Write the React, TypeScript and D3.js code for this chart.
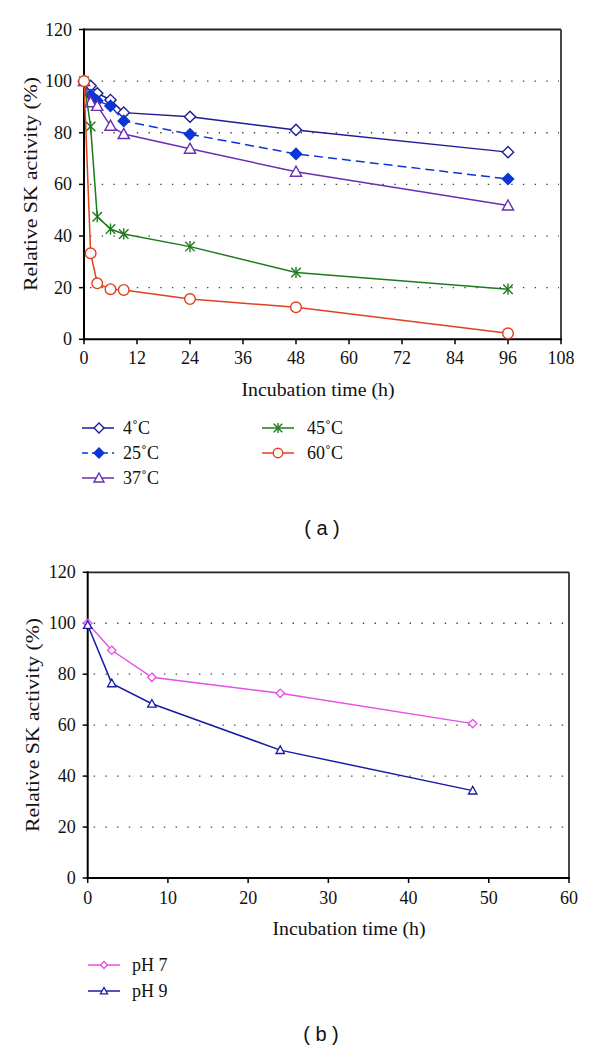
import React from "react";
import * as d3 from "d3";

// ---------- Data ----------
const tempTimes = [0, 1.5, 3, 6, 9, 24, 48, 96];
const temp4 = [100, 98.2, 95.3, 92.7, 87.8, 86.2, 81.1, 72.5];
const temp25 = [100, 94.6, 92.4, 90.4, 84.6, 79.4, 71.8, 62.1];
const temp37 = [100, 91.8, 90.4, 82.7, 79.5, 73.8, 64.9, 51.8];
const temp45 = [100, 82.4, 47.5, 42.7, 40.8, 35.9, 25.9, 19.4];
const temp60 = [100, 33.3, 21.7, 19.4, 19.1, 15.6, 12.4, 2.3];

const phTimes = [0, 3, 8, 24, 48];
const ph7 = [100, 89.4, 78.8, 72.5, 60.6];
const ph9 = [99.3, 76.4, 68.4, 50.2, 34.3];

const topXTicks = [0, 12, 24, 36, 48, 60, 72, 84, 96, 108];
const botXTicks = [0, 10, 20, 30, 40, 50, 60];
const yTicks = [0, 20, 40, 60, 80, 100, 120];
const gridTicks = [20, 40, 60, 80, 100];

type Shape = "diamondOpen" | "diamondFilled" | "triangle" | "star" | "circle";

const topSeries = [
  { name: "4˚C", values: temp4, color: "#1c1c96", shape: "diamondOpen" as Shape, dash: "" },
  { name: "25˚C", values: temp25, color: "#0b35d6", shape: "diamondFilled" as Shape, dash: "9,5" },
  { name: "37˚C", values: temp37, color: "#6a2fb0", shape: "triangle" as Shape, dash: "" },
  { name: "45˚C", values: temp45, color: "#1e7a1e", shape: "star" as Shape, dash: "" },
  { name: "60˚C", values: temp60, color: "#e0401c", shape: "circle" as Shape, dash: "" },
];

const botSeries = [
  { name: "pH 7", values: ph7, color: "#e650e6", shape: "diamondOpen" as Shape },
  { name: "pH 9", values: ph9, color: "#1a1aa8", shape: "triangle" as Shape },
];

const SERIF = "'Liberation Serif', 'Times New Roman', serif";
const SANS = "'Liberation Sans', Arial, sans-serif";

function Marker({ shape, x, y, s, color, sw = 1.4 }: { shape: Shape; x: number; y: number; s: number; color: string; sw?: number }) {
  switch (shape) {
    case "diamondOpen":
      return <path d={`M${x},${y - s}L${x + s},${y}L${x},${y + s}L${x - s},${y}Z`} fill="#fff" stroke={color} strokeWidth={sw} />;
    case "diamondFilled":
      return <path d={`M${x},${y - s}L${x + s},${y}L${x},${y + s}L${x - s},${y}Z`} fill={color} stroke={color} strokeWidth={sw} />;
    case "triangle":
      return <path d={`M${x},${y - s}L${x + s},${y + s * 0.8}L${x - s},${y + s * 0.8}Z`} fill="#fff" stroke={color} strokeWidth={sw} />;
    case "circle":
      return <circle cx={x} cy={y} r={s * 0.95} fill="#fff" stroke={color} strokeWidth={sw} />;
    case "star": {
      const k = s * 0.85;
      return (
        <g stroke={color} strokeWidth={sw}>
          <line x1={x - k} y1={y - k} x2={x + k} y2={y + k} />
          <line x1={x - k} y1={y + k} x2={x + k} y2={y - k} />
          <line x1={x} y1={y - s} x2={x} y2={y + s} />
        </g>
      );
    }
  }
  return null;
}

function Frame({ x, y, xTicks, fontSize, labelOffsetY }: { x: d3.ScaleLinear<number, number>; y: d3.ScaleLinear<number, number>; xTicks: number[]; fontSize: number; labelOffsetY: number }) {
  const [x0, x1] = x.range();
  const [y0, y1] = y.range();
  return (
    <g>
      {gridTicks.map((t) => (
        <line key={"g" + t} x1={x0 + 6} x2={x1 - 2} y1={y(t)} y2={y(t)} stroke="#444" strokeWidth={1.3} strokeDasharray="1.4,10.3" />
      ))}
      <line x1={x0} x2={x1} y1={y1} y2={y1} stroke="#222" strokeWidth={1.8} />
      <line x1={x1} x2={x1} y1={y1} y2={y0} stroke="#333" strokeWidth={1.8} />
      {yTicks.map((t) => (
        <g key={"y" + t}>
          <line x1={x0 - 5} x2={x0} y1={y(t)} y2={y(t)} stroke="#000" strokeWidth={1.5} />
          <text x={x0 - 12} y={y(t) + 6} textAnchor="end" fontFamily={SERIF} fontSize={fontSize} fill="#111">{t}</text>
        </g>
      ))}
      {xTicks.map((t) => (
        <g key={"x" + t}>
          <line x1={x(t)} x2={x(t)} y1={y0} y2={y0 + 5} stroke="#000" strokeWidth={1.5} />
          <text x={x(t)} y={y0 + labelOffsetY} textAnchor="middle" fontFamily={SERIF} fontSize={fontSize} fill="#111">{t}</text>
        </g>
      ))}
      <line x1={x0} x2={x0} y1={y1 - 1} y2={y0 + 1} stroke="#000" strokeWidth={2} />
      <line x1={x0 - 1} x2={x1 + 1} y1={y0} y2={y0} stroke="#000" strokeWidth={2} />
    </g>
  );
}

export default function App() {
  // Top chart (a)
  const xa = d3.scaleLinear().domain([0, 108]).range([84, 561]);
  const ya = d3.scaleLinear().domain([0, 120]).range([339.3, 29.5]);
  // Bottom chart (b)
  const xb = d3.scaleLinear().domain([0, 60]).range([87.7, 569]);
  const yb = d3.scaleLinear().domain([0, 120]).range([878, 572.3]);

  const lineA = d3.line<number>().x((_, i) => xa(tempTimes[i])).y((v) => ya(v));
  const lineB = d3.line<number>().x((_, i) => xb(phTimes[i])).y((v) => yb(v));

  const legendA = [
    { s: topSeries[0], lx: 82, mx: 99, tx: 123, y: 428 },
    { s: topSeries[1], lx: 82, mx: 99, tx: 123, y: 453 },
    { s: topSeries[2], lx: 82, mx: 99, tx: 123, y: 478 },
    { s: topSeries[3], lx: 262, mx: 278, tx: 307, y: 428 },
    { s: topSeries[4], lx: 262, mx: 278, tx: 307, y: 453 },
  ];

  return (
    <svg width={600} height={1049} style={{ position: "absolute", left: 0, top: 0, background: "#fff" }}>
      <rect width={600} height={1049} fill="#fff" />
      {/* ---------- Chart (a) ---------- */}
      <Frame x={xa} y={ya} xTicks={topXTicks} fontSize={18} labelOffsetY={25} />
      {topSeries.map((s) => (
        <g key={s.name}>
          <path d={lineA(s.values) || ""} fill="none" stroke={s.color} strokeWidth={1.5} strokeDasharray={s.dash || undefined} />
          {s.values.map((v, i) => (
            <Marker key={i} shape={s.shape} x={xa(tempTimes[i])} y={ya(v)} s={5.6} color={s.color} />
          ))}
        </g>
      ))}
      <text x={318} y={396} textAnchor="middle" fontFamily={SERIF} fontSize={18} fill="#111" textLength={153} lengthAdjust="spacingAndGlyphs">Incubation time (h)</text>
      <text transform="translate(37,184) rotate(-90)" textAnchor="middle" fontFamily={SERIF} fontSize={18} fill="#111" textLength={214} lengthAdjust="spacingAndGlyphs">Relative SK activity (%)</text>
      {legendA.map(({ s, lx, mx, tx, y }) => (
        <g key={"l" + s.name}>
          <line x1={lx} x2={lx + 32} y1={y} y2={y} stroke={s.color} strokeWidth={1.5} strokeDasharray={s.dash ? "6,4" : undefined} />
          <Marker shape={s.shape} x={mx} y={y} s={5} color={s.color} />
          <text x={tx} y={y + 6} fontFamily={SERIF} fontSize={18} fill="#111">{s.name}</text>
        </g>
      ))}
      <text x={322} y={535} textAnchor="middle" fontFamily={SANS} fontSize={20} fill="#111">( a )</text>

      {/* ---------- Chart (b) ---------- */}
      <Frame x={xb} y={yb} xTicks={botXTicks} fontSize={18} labelOffsetY={26} />
      {botSeries.map((s) => (
        <g key={s.name}>
          <path d={lineB(s.values) || ""} fill="none" stroke={s.color} strokeWidth={1.5} />
          {s.values.map((v, i) => (
            <Marker key={i} shape={s.shape} x={xb(phTimes[i])} y={yb(v)} s={4.2} color={s.color} sw={1.3} />
          ))}
        </g>
      ))}
      <text x={349} y={935} textAnchor="middle" fontFamily={SERIF} fontSize={18} fill="#111" textLength={153} lengthAdjust="spacingAndGlyphs">Incubation time (h)</text>
      <text transform="translate(39,725) rotate(-90)" textAnchor="middle" fontFamily={SERIF} fontSize={18} fill="#111" textLength={214} lengthAdjust="spacingAndGlyphs">Relative SK activity (%)</text>
      {botSeries.map((s, i) => (
        <g key={"lb" + s.name}>
          <line x1={88} x2={120} y1={965 + i * 26} y2={965 + i * 26} stroke={s.color} strokeWidth={1.5} />
          <Marker shape={s.shape} x={104} y={965 + i * 26} s={3.5} color={s.color} sw={1.3} />
          <text x={132} y={965 + i * 26 + 6} fontFamily={SERIF} fontSize={18} fill="#111">{s.name}</text>
        </g>
      ))}
      <text x={321} y={1041} textAnchor="middle" fontFamily={SANS} fontSize={20} fill="#111">( b )</text>
    </svg>
  );
}
